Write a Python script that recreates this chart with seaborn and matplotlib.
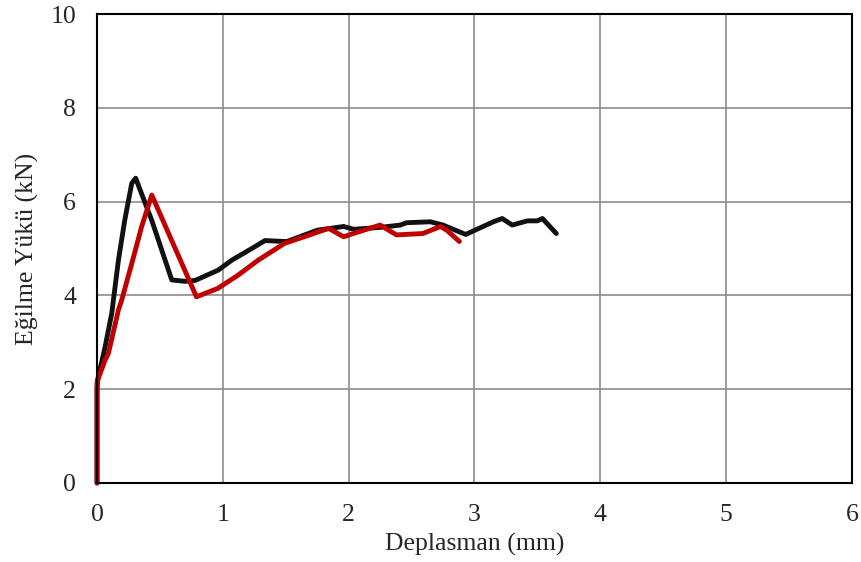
import matplotlib
matplotlib.use("Agg")
import matplotlib.pyplot as plt
import seaborn as sns
import pandas as pd

# black specimen
x_black = [0.0, 0.0, 0.005, 0.064, 0.117, 0.17, 0.22, 0.276, 0.307, 0.435, 0.594, 0.70, 0.78,
           0.964, 1.07, 1.23, 1.335, 1.49, 1.51, 1.75, 1.96, 2.04, 2.25, 2.41, 2.46, 2.65,
           2.75, 2.93, 3.15, 3.22, 3.30, 3.42, 3.50, 3.54, 3.65]
y_black = [0.0, 2.0, 2.2, 2.9, 3.62, 4.75, 5.6, 6.39, 6.5, 5.6, 4.33, 4.30, 4.32,
           4.54, 4.75, 5.0, 5.17, 5.15, 5.15, 5.39, 5.47, 5.41, 5.45, 5.5, 5.55, 5.57,
           5.5, 5.3, 5.57, 5.64, 5.5, 5.59, 5.59, 5.64, 5.32]

# red specimen
x_red = [0.0, 0.0, 0.064, 0.09, 0.17, 0.196, 0.276, 0.355, 0.435, 0.79, 0.96, 1.12, 1.28,
         1.49, 1.69, 1.84, 1.96, 2.06, 2.25, 2.38, 2.59, 2.73, 2.78, 2.88]
y_red = [0.0, 2.16, 2.62, 2.76, 3.69, 3.9, 4.68, 5.47, 6.14, 3.97, 4.15, 4.43, 4.75,
         5.11, 5.29, 5.43, 5.25, 5.34, 5.5, 5.29, 5.32, 5.47, 5.39, 5.15]

df_black = pd.DataFrame({"x": x_black, "y": y_black})
df_red = pd.DataFrame({"x": x_red, "y": y_red})

sns.set_style("white")
plt.rcParams["font.family"] = ["Liberation Serif", "DejaVu Serif"]

fig = plt.figure(figsize=(8.61, 5.62), dpi=100)
ax = fig.add_axes([0.1127, 0.1406, 0.8768, 0.8344])

sns.lineplot(data=df_black, x="x", y="y", sort=False, estimator=None, color="#111111",
             linewidth=3.5, ax=ax, clip_on=False)
sns.lineplot(data=df_red, x="x", y="y", sort=False, estimator=None, color="#c00000",
             linewidth=3.5, ax=ax, clip_on=False)

ax.set_xlim(0, 6)
ax.set_ylim(0, 10)
ax.set_xticks(range(0, 7))
ax.set_yticks(range(0, 11, 2))
ax.grid(True, color="#8c8c8c", linewidth=1.2)
ax.set_axisbelow(True)
for s in ax.spines.values():
    s.set_color("black")
    s.set_linewidth(1.5)
ax.tick_params(axis="x", labelsize=18.5, length=0, pad=15)
ax.tick_params(axis="y", labelsize=18.5, length=0, pad=15)
ax.set_xlabel("Deplasman (mm)", fontsize=18.5, labelpad=5)
ax.set_ylabel("Eğilme Yükü (kN)", fontsize=18.5, labelpad=8)

fig.savefig("out.png", dpi=100)
